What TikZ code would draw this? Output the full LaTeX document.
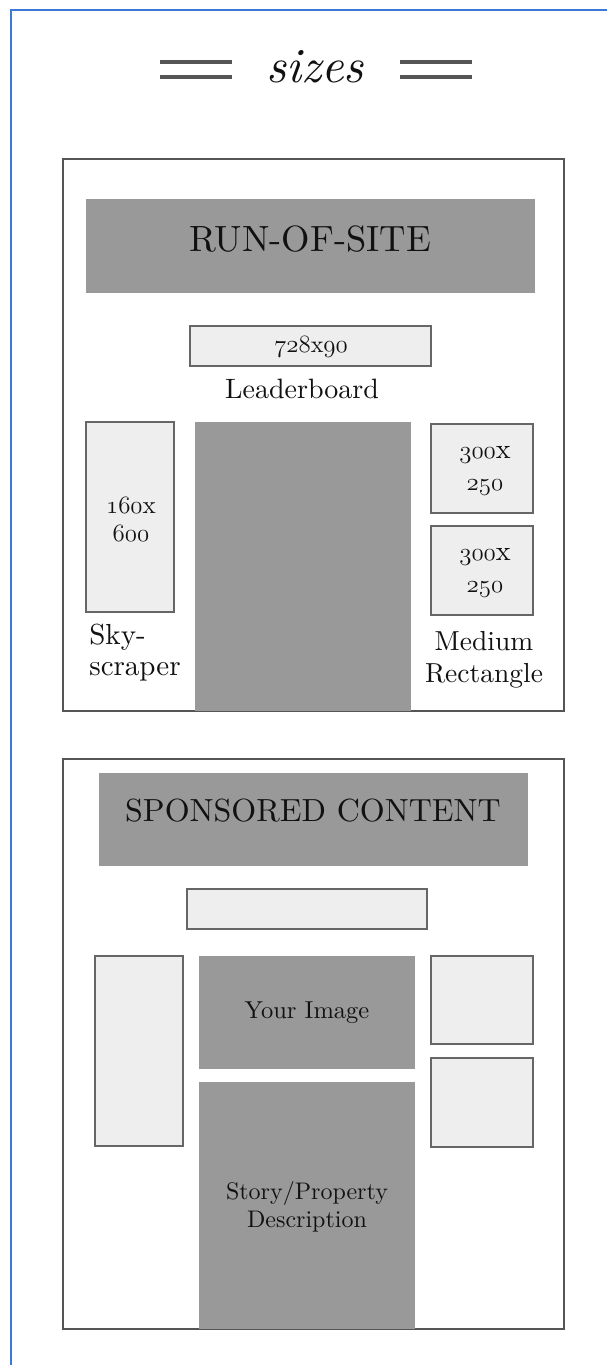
\documentclass[tikz,border=0pt]{standalone}
\usepackage{fontspec}
% keep the 10pt design of Latin Modern at every size, for darker strokes
\setmainfont{lmroman10-regular.otf}[ItalicFont=lmroman10-italic.otf,BoldFont=lmroman10-bold.otf]
\definecolor{frameblue}{HTML}{3C78D8}
\definecolor{paneledge}{HTML}{555555}
\definecolor{slotfill}{HTML}{EEEEEE}
\definecolor{slotedge}{HTML}{666666}
\definecolor{blockfill}{HTML}{999999}
\definecolor{ink}{HTML}{111111}
% old-style figures taken from the Latin Modern math italic font
\newcommand\osnum[1]{{\usefont{OML}{lmm}{m}{it}#1}}
\newcommand\fsz[2]{\fontsize{#1}{#2}\selectfont}
\begin{document}
\begin{tikzpicture}[x=1pt,y=-1pt,
  panel/.style={draw=paneledge,line width=1.6pt,fill=white,inner sep=0pt,outer sep=0pt},
  slotbox/.style={draw=slotedge,fill=slotfill,line width=1.3pt,inner sep=0pt,outer sep=0pt},
  blockbox/.style={fill=blockfill,inner sep=0pt,outer sep=0pt},
  txt/.style={text=ink,inner sep=0pt,align=center},
  rule/.style={draw=paneledge,line width=3.5pt}]
\useasboundingbox (0,0) rectangle (607,1365);
\fill[white] (0,0) rectangle (607,1365);

% page frame
\coordinate (fa) at (11,1370);
\coordinate (fb) at (11,10);
\coordinate (fc) at (612,10);
\draw[frameblue,line width=2.4pt] (fa) -- (fb) -- (fc);

% heading
\node[txt,font=\fsz{49}{56}\itshape] (title) at (315,67) {sizes};
\draw[rule] (160,62) -- (232,62);
\draw[rule] (160,77) -- (232,77);
\draw[rule] (400,62) -- (472,62);
\draw[rule] (400,77) -- (472,77);

% ---------------- run-of-site panel ----------------
\node[panel,minimum width=501pt,minimum height=552pt] (ros) at (313.5,435) {};
\node[blockbox,minimum width=449pt,minimum height=94pt] (rosbanner) at (310.5,246) {};
\node[txt,font=\fsz{36.5}{42}] (rostitle) at (310,239) {RUN-OF-SITE};

\node[slotbox,minimum width=241pt,minimum height=40pt] (lb) at (310.5,346) {};
\node[txt,font=\fsz{24}{28}] (lbsize) at (311,347) {\osnum{728}x\osnum{90}};
\node[txt,font=\fsz{28}{32}] (lbname) at (302,389) {Leaderboard};

\node[slotbox,minimum width=88pt,minimum height=190pt] (sky) at (130,517) {};
\node[txt,font=\fsz{25}{28}] (skysize) at (131,519) {\osnum{160}x\\\osnum{600}};
\node[txt,font=\fsz{29}{31},align=left] (skyname) at (135,653) {Sky-\\scraper};

\node[blockbox,minimum width=216pt,minimum height=289pt] (roscontent) at (303,566) {};

\node[slotbox,minimum width=102pt,minimum height=89pt] (mra) at (482,468.5) {};
\node[slotbox,minimum width=102pt,minimum height=89pt] (mrb) at (482,570.5) {};
\node[txt,font=\fsz{28}{32}] (mrasize) at (485,471) {\osnum{300}x\\\osnum{250}};
\node[txt,font=\fsz{28}{32}] (mrbsize) at (485,573) {\osnum{300}x\\\osnum{250}};
\node[txt,font=\fsz{27.5}{32}] (mrname) at (484,660) {Medium\\Rectangle};

% ---------------- sponsored content panel ----------------
\node[panel,minimum width=501pt,minimum height=570pt] (spc) at (313.5,1044) {};
\node[blockbox,minimum width=429pt,minimum height=93pt] (spcbanner) at (313.5,819.5) {};
\node[txt,font=\fsz{32}{38}] (spctitle) at (313,811) {SPONSORED CONTENT};

\node[slotbox,minimum width=240pt,minimum height=40pt] (spclb) at (307,909) {};
\node[slotbox,minimum width=88pt,minimum height=190pt] (spcsky) at (139,1051) {};
\node[slotbox,minimum width=102pt,minimum height=88pt] (spcmra) at (482,1000) {};
\node[slotbox,minimum width=102pt,minimum height=89pt] (spcmrb) at (482,1102.5) {};

\node[blockbox,minimum width=216pt,minimum height=113pt] (image) at (307,1012.5) {};
\node[txt,font=\fsz{24.5}{28}] (imagetext) at (307,1013) {Your Image};
\node[blockbox,minimum width=216pt,minimum height=247pt] (story) at (307,1205.5) {};
\node[txt,font=\fsz{24}{28}] (storytext) at (307,1207) {Story/Property\\Description};
\end{tikzpicture}
\end{document}
